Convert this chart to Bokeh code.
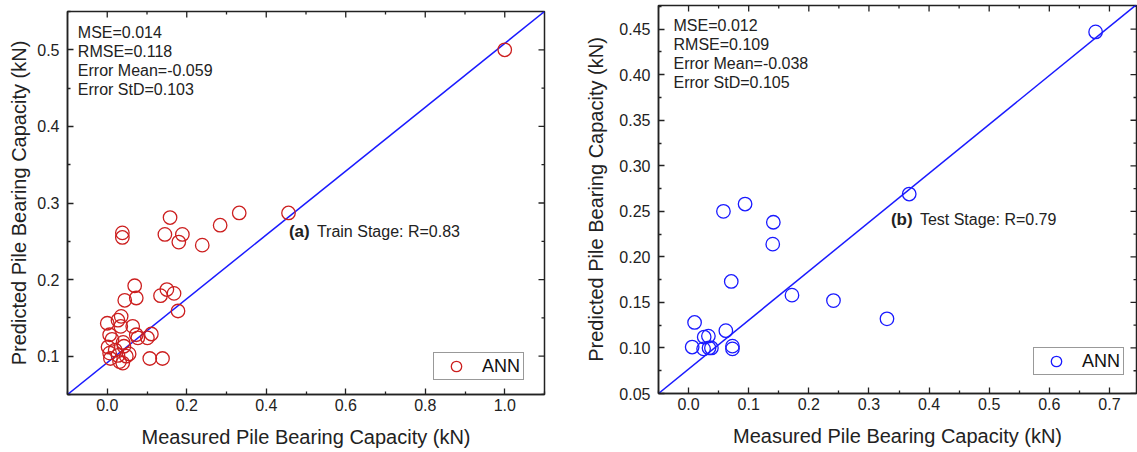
import math
from bokeh.plotting import figure
from bokeh.layouts import row, column
from bokeh.models import (ColumnDataSource, FixedTicker, Range1d, Legend,
                          LegendItem, Label, NumeralTickFormatter)
from bokeh.embed import file_html
from bokeh.resources import INLINE

FONT = "Liberation Sans"
INK = "#222222"

# ---------------- data ----------------
train_measured = [1.000, 0.456, 0.332, 0.284, 0.239, 0.158, 0.189, 0.145, 0.180, 0.038,
                  0.038, 0.069, 0.073, 0.044, 0.134, 0.150, 0.168, 0.178, 0.000, 0.035,
                  0.027, 0.034, 0.064, 0.006, 0.012, 0.073, 0.077, 0.101, 0.111, 0.042,
                  0.040, 0.006, 0.008, 0.027, 0.048, 0.031, 0.039, 0.107, 0.139, 0.020,
                  0.055, 0.002]
train_predicted = [0.500, 0.287, 0.287, 0.271, 0.245, 0.281, 0.259, 0.259, 0.249, 0.261,
                   0.255, 0.192, 0.176, 0.173, 0.179, 0.187, 0.182, 0.159, 0.143, 0.152,
                   0.147, 0.139, 0.139, 0.128, 0.122, 0.128, 0.124, 0.124, 0.129, 0.113,
                   0.118, 0.104, 0.097, 0.101, 0.100, 0.093, 0.091, 0.097, 0.097, 0.108,
                   0.103, 0.112]

test_measured = [0.677, 0.367, 0.094, 0.058, 0.141, 0.140, 0.071, 0.172, 0.241, 0.330,
                 0.010, 0.062, 0.026, 0.033, 0.006, 0.025, 0.034, 0.038, 0.073, 0.073]
test_predicted = [0.447, 0.269, 0.258, 0.250, 0.238, 0.214, 0.173, 0.158, 0.152, 0.132,
                  0.128, 0.119, 0.112, 0.113, 0.101, 0.099, 0.100, 0.100, 0.102, 0.099]

train_fit_x = [-0.1, 1.1]
train_fit_y = [0.05, 0.55]
test_fit_x = [-0.05, 0.745]
test_fit_y = [0.05, 0.477]

train_stats = ["MSE=0.014", "RMSE=0.118", "Error Mean=-0.059", "Error StD=0.103"]
test_stats = ["MSE=0.012", "RMSE=0.109", "Error Mean=-0.038", "Error StD=0.105"]

left_xticks = [0.0, 0.2, 0.4, 0.6, 0.8, 1.0]
left_yticks = [0.1, 0.2, 0.3, 0.4, 0.5]
right_xticks = [0.0, 0.1, 0.2, 0.3, 0.4, 0.5, 0.6, 0.7]
right_yticks = [0.05, 0.10, 0.15, 0.20, 0.25, 0.30, 0.35, 0.40, 0.45]

X_LABEL = "Measured Pile Bearing Capacity (kN)"
Y_LABEL = "Predicted Pile Bearing Capacity (kN)"


def minors(ticks):
    step = ticks[1] - ticks[0]
    return [ticks[0] - step / 2] + [t + step / 2 for t in ticks]


def style_axis(ax):
    ax.major_tick_in = 6
    ax.major_tick_out = 0
    ax.minor_tick_in = 3
    ax.minor_tick_out = 0
    ax.axis_line_width = 1.5
    ax.axis_line_color = INK
    ax.major_tick_line_width = 1.3
    ax.minor_tick_line_width = 1.3
    ax.major_tick_line_color = INK
    ax.minor_tick_line_color = INK
    ax.major_label_text_font = FONT
    ax.major_label_text_color = INK
    ax.major_label_text_font_size = "16px"
    ax.axis_label_text_font = FONT
    ax.axis_label_text_font_style = "normal"
    ax.axis_label_text_color = INK
    ax.axis_label_text_font_size = "20px"


def mirror_ticks(p, xr, yr, xt, yt):
    # inward ticks on the top and right frame edges (outer half of each dash is clipped)
    xm, ym = minors(xt), minors(yt)
    p.scatter(xt, [yr[1]] * len(xt), marker="dash", angle=math.pi / 2, size=12,
              line_color=INK, line_width=1.3)
    p.scatter(xm, [yr[1]] * len(xm), marker="dash", angle=math.pi / 2, size=6,
              line_color=INK, line_width=1.3)
    p.scatter([xr[1]] * len(yt), yt, marker="dash", size=12, line_color=INK, line_width=1.3)
    p.scatter([xr[1]] * len(ym), ym, marker="dash", size=6, line_color=INK, line_width=1.3)


def make_panel(mx, py, fx, fy, color, xr, yr, xt, yt, xfmt, yfmt, stats, stats_xy,
               tag, tag_text, tag_xy, tag_off, leg_loc, width, borders, ylab_standoff):
    p = figure(width=width, height=452, output_backend="svg", toolbar_location=None,
               x_range=Range1d(*xr), y_range=Range1d(*yr),
               min_border_left=borders[0], min_border_right=borders[1],
               min_border_top=borders[2], min_border_bottom=borders[3])
    p.grid.visible = False
    p.outline_line_color = INK
    p.outline_line_width = 1.5
    p.background_fill_color = "white"
    p.border_fill_color = "white"

    p.xaxis.ticker = FixedTicker(ticks=xt, minor_ticks=minors(xt))
    p.yaxis.ticker = FixedTicker(ticks=yt, minor_ticks=minors(yt))
    p.xaxis.formatter = NumeralTickFormatter(format=xfmt)
    p.yaxis.formatter = NumeralTickFormatter(format=yfmt)
    p.xaxis.axis_label = X_LABEL
    p.yaxis.axis_label = Y_LABEL
    style_axis(p.xaxis[0])
    style_axis(p.yaxis[0])
    p.xaxis.major_label_standoff = 4
    p.xaxis.axis_label_standoff = 12
    p.yaxis.major_label_standoff = 8
    p.yaxis.axis_label_standoff = ylab_standoff

    mirror_ticks(p, xr, yr, xt, yt)

    src = ColumnDataSource(dict(x=mx, y=py))
    p.line(fx, fy, line_color="#1a1aff", line_width=1.5)
    r = p.scatter("x", "y", source=src, marker="circle", size=13.5, fill_color=None,
                  line_color=color, line_width=1.3)

    p.add_layout(Label(x=stats_xy[0], y=stats_xy[1], text="\n".join(stats),
                       text_font=FONT, text_font_size="16px", text_color=INK,
                       text_baseline="top", text_align="left", text_line_height=1.12))
    p.add_layout(Label(x=tag_xy[0], y=tag_xy[1], text=tag, text_font=FONT,
                       text_font_size="17px", text_font_style="bold", text_color=INK,
                       text_baseline="middle", text_align="left"))
    p.add_layout(Label(x=tag_xy[0], y=tag_xy[1], x_offset=tag_off, text=tag_text,
                       text_font=FONT, text_font_size="16px", text_color=INK,
                       text_baseline="middle", text_align="left"))

    legend = Legend(items=[LegendItem(label="ANN", renderers=[r])], location=leg_loc,
                    padding=0, margin=0, glyph_width=44, glyph_height=26, label_standoff=4,
                    label_width=41, border_line_color="#333333", border_line_width=1.3,
                    label_text_font=FONT, label_text_font_size="18px",
                    label_text_color="#111111", background_fill_color="white",
                    background_fill_alpha=1.0)
    p.add_layout(legend)
    return p


left = make_panel(train_measured, train_predicted, train_fit_x, train_fit_y, "#cc1f1f",
                  (-0.1, 1.1), (0.05, 0.55), left_xticks, left_yticks, "0.0", "0.0",
                  train_stats, (-0.074, 0.534), "(a)", "Train Stage: R=0.83", (0.457, 0.263),
                  28, (366, 14), 571, (67, 27, 11, 58), 4)

right = make_panel(test_measured, test_predicted, test_fit_x, test_fit_y, "#1a1aff",
                   (-0.05, 0.745), (0.05, 0.476), right_xticks, right_yticks, "0.0", "0.00",
                   test_stats, (-0.025, 0.4637), "(b)", "Test Stage: R=0.79", (0.3365, 0.2415),
                   29, (375, 18), 566, (87, 1, 5, 59), 9)

layout = row(column(left), column(right))
open("out.html", "w").write(file_html(layout, INLINE))
